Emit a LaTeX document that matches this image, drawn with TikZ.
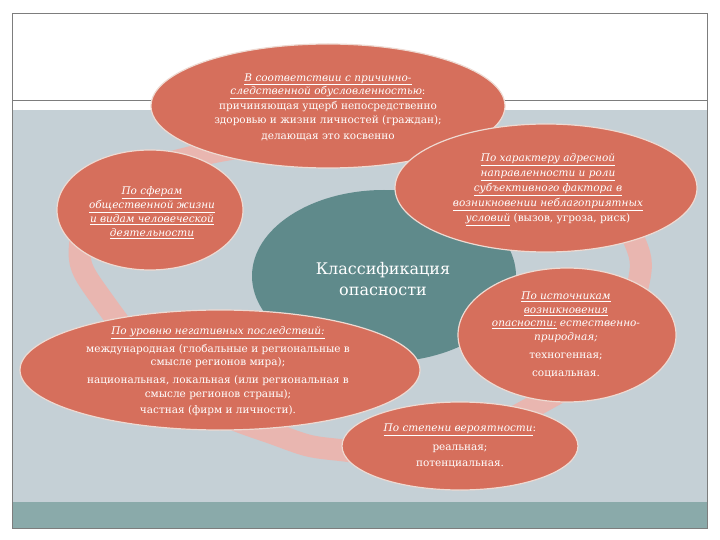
\documentclass[tikz,border=0pt]{standalone}
\usepackage{fontspec}
\setmainfont{DejaVu Serif}
\definecolor{salmon}{RGB}{214,111,92}
\definecolor{bluegray}{RGB}{197,208,214}
\definecolor{tealblob}{RGB}{95,138,139}
\definecolor{tealbar}{RGB}{138,170,170}
\definecolor{pinkring}{RGB}{233,182,176}
\definecolor{halo}{RGB}{238,218,210}
\definecolor{framegray}{RGB}{125,125,125}
\newcommand{\uit}[1]{\underline{\itshape #1}}

\begin{document}
\begin{tikzpicture}[x=1pt,y=-1pt]
        \tikzstyle{blob}=[fill=salmon,draw=halo,line width=1.2pt]
        \tikzstyle{txt}=[text=white,align=center,inner sep=0pt,font=\fontsize{10.5}{13.5}\selectfont]
        \tikzstyle{title}=[text=white,align=center,inner sep=0pt,font=\fontsize{16}{21}\selectfont]
        \useasboundingbox (0,0) rectangle (720,540);
        \fill[white] (0,0) rectangle (720,540);
        \fill[bluegray] (12,110) rectangle (707,502);
        \fill[tealbar] (12,502) rectangle (707,528);
        \draw[framegray] (12,100) -- (707,100);
        \draw[framegray] (12,13) rectangle (707,528);
        \draw[pinkring,line width=22pt] plot[smooth cycle,tension=0.7] coordinates {(330,140) (470,135) (590,172) (632,235) (638,285) (605,355) (540,403) (430,452) (340,450) (280,436) (185,392) (104,302) (80,245) (115,188) (205,154)};
        \fill[tealblob] (384,276) ellipse (132pt and 86pt);
        \filldraw[blob] (328,106) ellipse (177pt and 62pt);
        \filldraw[blob] (546,188) ellipse (151pt and 64pt);
        \filldraw[blob] (150,210) ellipse (93pt and 60pt);
        \filldraw[blob] (567,335) ellipse (109pt and 67pt);
        \filldraw[blob] (220,370) ellipse (200pt and 60pt);
        \filldraw[blob] (460,446) ellipse (118pt and 44pt);
        \node[title] (cls) at (383,279) {Классификация\\опасности};
        \node[txt] (cause) at (328,107) {\uit{В соответствии с причинно-}\\
                \uit{следственной обусловленностью}:\\[1.5pt]
                причиняющая ущерб непосредственно\\
                здоровью и жизни личностей (граждан);\\[2.5pt]
                делающая это косвенно};
        \node[txt] (addr) at (548,190) {\uit{По характеру адресной}\\[1.5pt]
                \uit{направленности и роли}\\[1.5pt]
                \uit{субъективного фактора в}\\[1.5pt]
                \uit{возникновении неблагоприятных}\\[1.5pt]
                \uit{условий} (вызов, угроза, риск)};
        \node[txt] (sphere) at (152,213) {\uit{По сферам}\\[0.5pt]
                \uit{общественной жизни}\\[0.5pt]
                \uit{и видам человеческой}\\[0.5pt]
                \uit{деятельности}};
        \node[txt] (source) at (566,335) {\uit{По источникам}\\
                \uit{возникновения}\\
                \uit{опасности:} {\itshape естественно-}\\
                {\itshape природная;}\\[4.5pt]
                техногенная;\\[4.5pt]
                социальная.};
        \node[txt] (level) at (218,371) {\uit{По уровню негативных последствий:}\\[4.5pt]
                международная (глобальные и региональные в\\
                смысле регионов мира);\\[4.5pt]
                национальная, локальная (или региональная в\\
                смысле регионов страны);\\[2.5pt]
                частная (фирм и личности).};
        \node[txt] (prob) at (460,446) {\uit{По степени вероятности}:\\[5pt]
                реальная;\\[2.5pt]
                потенциальная.};
\end{tikzpicture}
\end{document}
